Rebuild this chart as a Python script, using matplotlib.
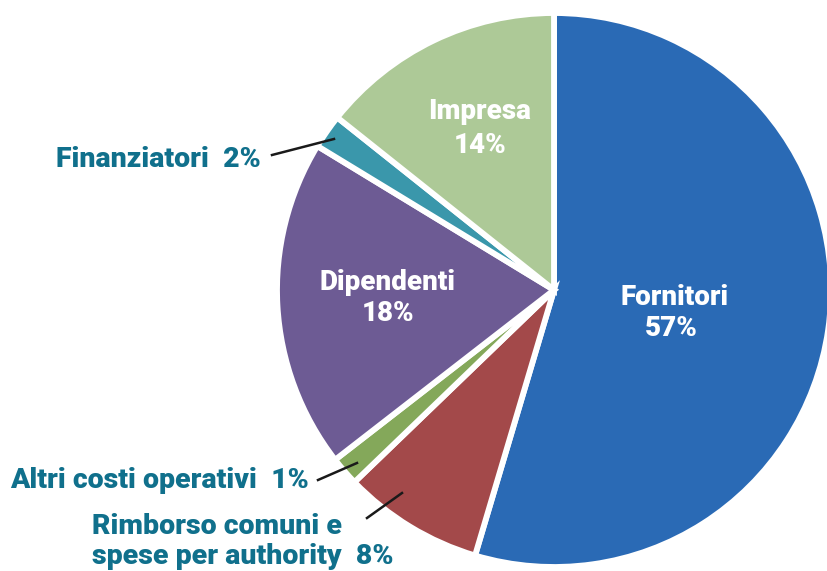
import matplotlib
matplotlib.use("Agg")
import matplotlib.pyplot as plt

# Data (slice sizes; labels as printed)
categories = ["Fornitori", "Rimborso comuni e\nspese per authority", "Altri costi operativi",
              "Dipendenti", "Finanziatori", "Impresa"]
sizes = [54.6, 8.2, 1.7, 19.2, 2.0, 14.3]
pct_labels = ["57%", "8%", "1%", "18%", "2%", "14%"]
colors = ["#2a6ab5", "#a3494a", "#84a85a", "#6d5b94", "#3a97ab", "#adc997"]
explode = [0.03, 0, 0, 0, 0, 0]

W, H = 828, 571
def Y(py):
    return H - py

plt.rcParams['font.family'] = ['Roboto', 'DejaVu Sans']

fig = plt.figure(figsize=(W / 100, H / 100), dpi=100)
ax = fig.add_axes([0, 0, 1, 1])
ax.pie(sizes, colors=colors, startangle=90, counterclock=False,
       center=(554, Y(290)), radius=277, explode=explode,
       wedgeprops=dict(edgecolor="white", linewidth=4.2))
ax.set_xlim(0, W)
ax.set_ylim(0, H)
ax.set_aspect('equal')
ax.axis('off')

inner = dict(color="white", fontweight="black", fontsize=20, ha="center", va="center")
ax.text(480, Y(112), "Impresa", **inner)
ax.text(480, Y(146), pct_labels[5], **inner)
ax.text(388, Y(283), "Dipendenti", **inner)
ax.text(388, Y(314), pct_labels[3], **inner)
ax.text(675, Y(298), "Fornitori", **inner)
ax.text(671, Y(328), pct_labels[0], **inner)

teal = "#10708c"
outer = dict(color=teal, fontweight="black", fontsize=20.5, va="center")
ax.text(261, Y(160), f"Finanziatori  {pct_labels[4]}", ha="right", **outer)
ax.text(10, Y(481), f"Altri costi operativi  {pct_labels[2]}", ha="left", **outer)
ax.text(92, Y(527), "Rimborso comuni e", ha="left", **outer)
ax.text(92, Y(556), f"spese per authority  {pct_labels[1]}", ha="left", **outer)

lk = dict(color="#1a1a1a", linewidth=1.8)
ax.plot([272, 334], [Y(155), Y(139)], **lk)
ax.plot([318, 357], [Y(480), Y(463)], **lk)
ax.plot([367, 402], [Y(518), Y(493)], **lk)

fig.savefig("out.png", dpi=100)
